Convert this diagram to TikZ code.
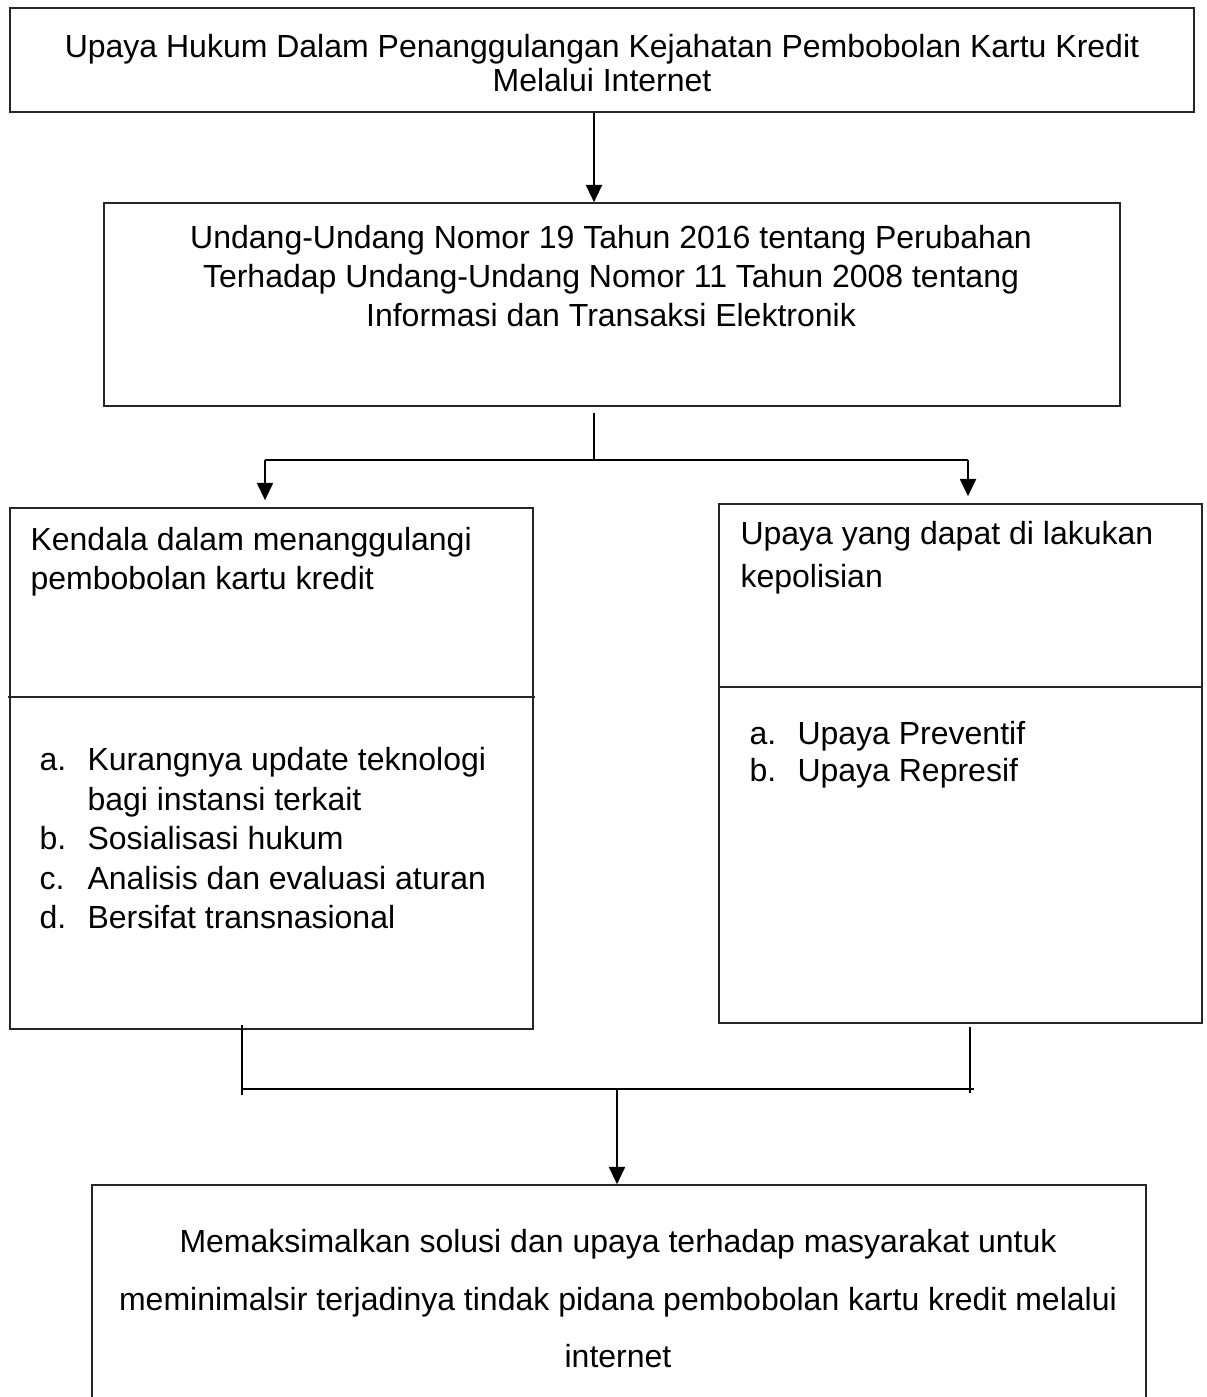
\documentclass[tikz,border=0pt]{standalone}
\usepackage{fontspec}
\setmainfont{Liberation Sans}
\usetikzlibrary{arrows.meta,calc}

\newcommand\butir[1]{\makebox[18pt][l]{#1}}

\begin{document}
\begin{tikzpicture}[
  x=0.375pt, y=-0.375pt,
  font=\fontsize{12}{14.4}\selectfont,
  >={Triangle[length=6.5pt,width=6pt]},
  box/.style={draw=black!85, line width=0.6pt, inner sep=0pt},
  txt/.style={inner sep=0pt, anchor=north},
  txtl/.style={inner sep=0pt, anchor=north west, align=left},
  link/.style={line width=0.45pt, draw=black},
  arr/.style={->, line width=0.8pt, draw=black},
]
\useasboundingbox (0,0) rectangle (1207,1397);

% ---- boxes ----
\node[box, minimum width=444pt,   minimum height=39pt]    (judul)   at (602,60)      {};
\node[box, minimum width=381pt,   minimum height=76.1pt]  (uu)      at (612,304.5)   {};
\node[box, minimum width=196.1pt, minimum height=195.4pt] (kendala) at (271.5,768.5) {};
\node[box, minimum width=181.1pt, minimum height=194.6pt] (upaya)   at (960.5,763.5) {};
\node[box, minimum width=395.3pt, minimum height=90pt]    (hasil)   at (619,1305)    {};

% ---- dividers inside the two side boxes ----
\draw[line width=0.6pt, black!85] (8,697) -- (535,697);
\draw[line width=0.6pt, black!85] (719,687) -- (1202,687);

% ---- texts ----
\node[txt, align=center, font=\fontsize{12}{12.6}\selectfont] (t-judul) at (602,34)
      {Upaya Hukum Dalam Penanggulangan Kejahatan Pembobolan Kartu Kredit\\Melalui Internet};
\node[txt, align=center, font=\fontsize{12}{14.6}\selectfont] (t-uu) at (611,225)
      {Undang-Undang Nomor 19 Tahun 2016 tentang Perubahan\\
       Terhadap Undang-Undang Nomor 11 Tahun 2008 tentang\\
       Informasi dan Transaksi Elektronik};
\node[txtl, font=\fontsize{12}{14.6}\selectfont] (t-kendala) at (30,527)
      {Kendala dalam menanggulangi\\pembobolan kartu kredit};
\node[txtl, font=\fontsize{12}{14.8}\selectfont] (l-kendala) at (39,747)
      {\butir{a.}Kurangnya update teknologi\\
       \butir{}bagi instansi terkait\\
       \butir{b.}Sosialisasi hukum\\
       \butir{c.}Analisis dan evaluasi aturan\\
       \butir{d.}Bersifat transnasional};
\node[txtl, font=\fontsize{12}{16.1}\selectfont] (t-upaya) at (740,521)
      {Upaya yang dapat di lakukan\\kepolisian};
\node[txtl, font=\fontsize{12}{13.8}\selectfont] (l-upaya) at (749,721)
      {\butir{a.}Upaya Preventif\\
       \butir{b.}Upaya Represif};
\node[txt, align=center, font=\fontsize{12}{21.6}\selectfont] (t-hasil) at (618,1229)
      {Memaksimalkan solusi dan upaya terhadap masyarakat untuk\\
       meminimalsir terjadinya tindak pidana pembobolan kartu kredit melalui\\
       internet};

% ---- junction points ----
\coordinate (pisah)        at (594,460);
\coordinate (kiri)         at (265,460);
\coordinate (kanan)        at (968,460);
\coordinate (gabung)       at (617,1089);
\coordinate (gabung-kiri)  at (242,1089);
\coordinate (gabung-kanan) at (970,1089);

% ---- edges ----
\draw[arr] ([xshift=-3pt]judul.south) -- ([xshift=-6.75pt]uu.north);

\draw[link] ($(pisah |- uu.south)+(0,6)$) -- (pisah);
\draw[link] (kiri) -- (kanan);
\draw[arr] (kiri)  -- ($(kiri |- kendala.north)+(0,-7)$);
\draw[arr] (kanan) -- ($(kanan |- upaya.north)+(0,-7)$);

\draw[link] ($(gabung-kiri |- kendala.south)+(0,-5)$) -- ($(gabung-kiri)+(0,6)$);
\draw[link] ($(gabung-kanan |- upaya.south)+(0,3)$) -- ($(gabung-kanan)+(0,4)$);
\draw[link] (gabung-kiri) -- ($(gabung-kanan)+(4,0)$);
\draw[arr] (gabung) -- (gabung |- hasil.north);
\end{tikzpicture}
\end{document}
